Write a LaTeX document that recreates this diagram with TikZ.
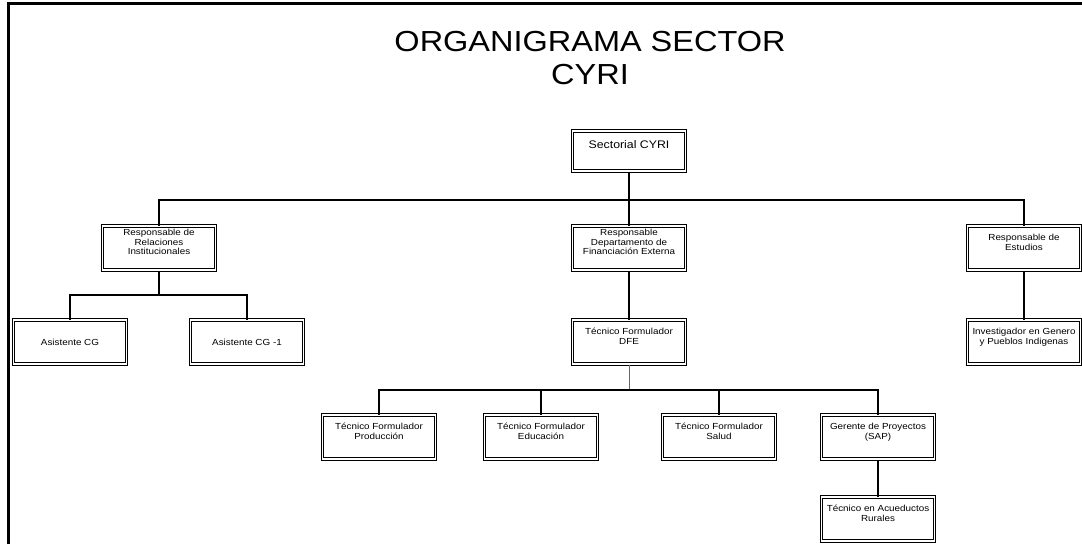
\documentclass[tikz,border=0pt]{standalone}
\usepackage{fontspec}
\newfontfamily\orgfont[FakeStretch=1.12]{Liberation Sans}
\definecolor{linkblue}{RGB}{60,110,180}
\begin{document}
\begin{tikzpicture}[x=1pt,y=-1pt,
  cargo/.style={draw,line width=1pt,double distance=1.3pt,minimum width=113pt,minimum height=44pt,
    align=center,inner sep=2pt,font=\orgfont\fontsize{8.8}{9.8}\selectfont,text depth=12pt},
  link/.style={line width=2pt}]
\useasboundingbox (0,0) rectangle (1082,544);
\draw[line width=3pt] (8,544) -- (8,3) -- (1082,3);
\node[font=\orgfont\fontsize{29}{33}\selectfont,align=center] (title) at (590,58) {ORGANIGRAMA SECTOR\\CYRI};
% cargos
\node[cargo,minimum height=40pt,font=\orgfont\fontsize{11}{13}\selectfont] (sect) at (629,151) {Sectorial CYRI};
\node[cargo] (rel) at (159,248) {Responsable de\\Relaciones\\Institucionales};
\node[cargo] (dep) at (629,248) {Responsable\\Departamento de\\Financiación Externa};
\node[cargo] (est) at (1024,248) {Responsable de\\Estudios};
\node[cargo,text depth=0pt] (asis) at (70,342) {Asistente CG};
\node[cargo,text depth=0pt] (asis1) at (247,342) {Asistente CG -1};
\node[cargo] (dfe) at (629,342) {Técnico Formulador\\DFE};
\node[cargo] (inv) at (1024,342) {Investigador en Genero\\y Pueblos Indigenas};
\node[cargo] (prod) at (379,437) {Técnico Formulador\\Producción};
\node[cargo] (edu) at (541,437) {Técnico Formulador\\Educación};
\node[cargo] (sal) at (719,437) {Técnico Formulador\\Salud};
\node[cargo] (ger) at (878,437) {Gerente de Proyectos\\(SAP)};
\node[cargo] (acu) at (878,519) {Técnico en Acueductos\\Rurales};
% lineas
\coordinate (bus1) at (629,200);
\coordinate (bus2) at (159,295);
\coordinate (bus3) at (629,390);
\draw[link] (sect.south) -- (dep.north);
\draw[link] (rel.north) |- (bus1) -| (est.north);
\draw[link] (rel.south) -- (bus2);
\draw[link] (asis.north) |- (bus2) -| (asis1.north);
\draw[link] (dep.south) -- (dfe.north);
\draw[link] (est.south) -- (inv.north);
\draw[linkblue,line width=1pt] (dfe.south) -- (bus3);
\draw[link] (prod.north) |- (bus3) -| (ger.north);
\draw[link] (edu.north) -- (edu.north |- bus3);
\draw[link] (sal.north) -- (sal.north |- bus3);
\draw[link] (ger.south) -- (acu.north);
\end{tikzpicture}
\end{document}
